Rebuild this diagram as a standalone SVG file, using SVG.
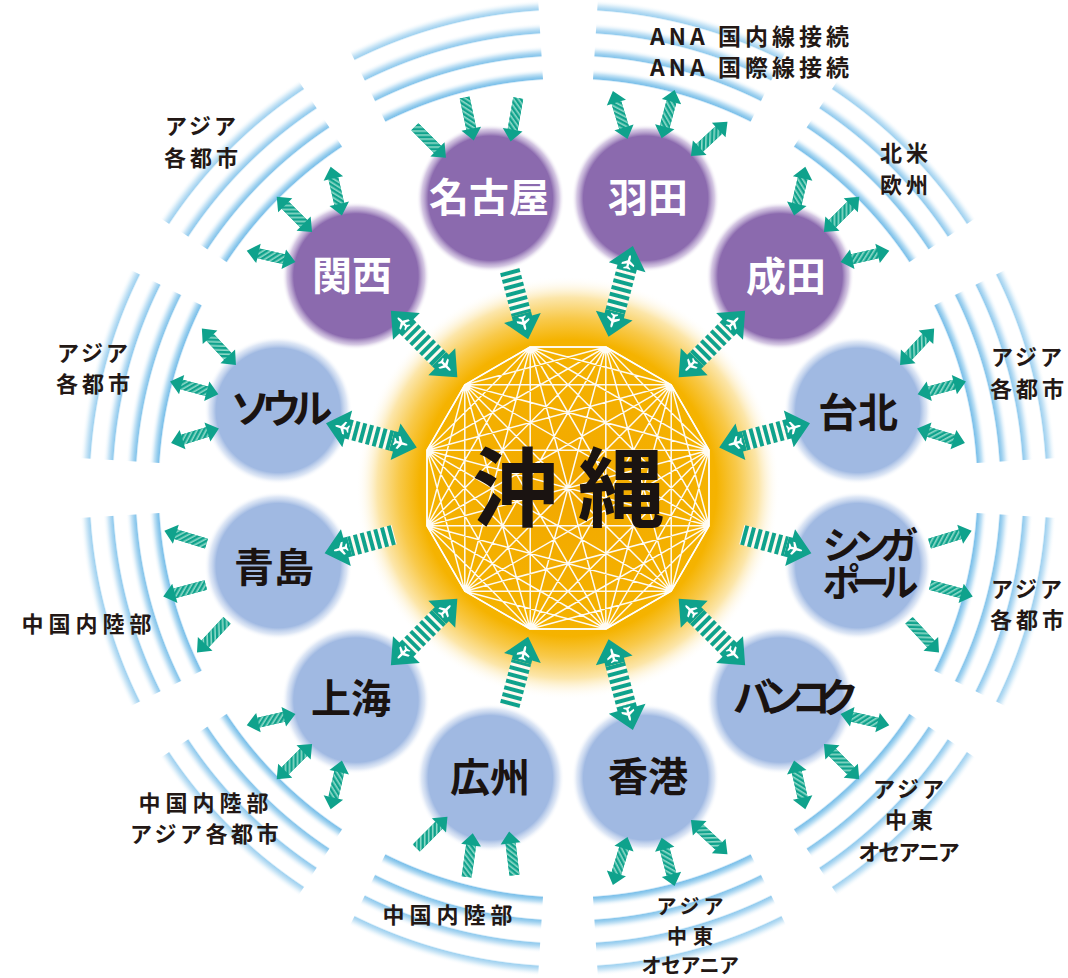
<svg xmlns="http://www.w3.org/2000/svg" xmlns:xlink="http://www.w3.org/1999/xlink" width="1068" height="978" viewBox="0 0 1068 978">
<style>
.lb{font-family:"Noto Sans CJK JP","Noto Sans CJK SC",sans-serif;font-weight:bold;font-size:22px;fill:#231815;text-anchor:middle;letter-spacing:3px}
.nl{font-family:"Noto Sans CJK JP","Noto Sans CJK SC",sans-serif;font-weight:bold;font-size:40px;fill:#1a1311;text-anchor:middle}
.w{fill:#ffffff}
.k12{fill:none;stroke:#ffffff;stroke-width:1.5;stroke-linejoin:round;opacity:0.95}
.teal{fill:#0fa28c}
</style>
<defs>
<radialGradient id="bandG" gradientUnits="userSpaceOnUse" cx="0" cy="0" r="494">
<stop offset="0" stop-color="#ffffff" stop-opacity="0"/>
<stop offset="0.8259" stop-color="#ffffff" stop-opacity="0"/>
<stop offset="0.8300" stop-color="#7cc0ea"/>
<stop offset="0.8340" stop-color="#94cced"/>
<stop offset="0.8401" stop-color="#c6e4f6"/>
<stop offset="0.8502" stop-color="#ffffff" stop-opacity="0"/>
<stop offset="0.8725" stop-color="#ffffff" stop-opacity="0"/>
<stop offset="0.8765" stop-color="#86c5eb"/>
<stop offset="0.8806" stop-color="#9dd0ef"/>
<stop offset="0.8866" stop-color="#cde7f7"/>
<stop offset="0.8968" stop-color="#ffffff" stop-opacity="0"/>
<stop offset="0.9190" stop-color="#ffffff" stop-opacity="0"/>
<stop offset="0.9231" stop-color="#92cbee"/>
<stop offset="0.9271" stop-color="#a8d5f1"/>
<stop offset="0.9332" stop-color="#d4eaf8"/>
<stop offset="0.9433" stop-color="#ffffff" stop-opacity="0"/>
<stop offset="0.9656" stop-color="#ffffff" stop-opacity="0"/>
<stop offset="0.9696" stop-color="#a0d2f0"/>
<stop offset="0.9737" stop-color="#b5dbf3"/>
<stop offset="0.9798" stop-color="#dbeef9"/>
<stop offset="0.9899" stop-color="#ffffff" stop-opacity="0"/>
<stop offset="1" stop-color="#ffffff" stop-opacity="0"/>
</radialGradient>
<path id="sector" d="M-98.49,-484.08 A494,494 0 0 1 98.49,-484.08 L80.74,-396.87 A405,405 0 0 0 -80.74,-396.87 Z" fill="url(#bandG)"/>
<radialGradient id="glow" gradientUnits="userSpaceOnUse" cx="568" cy="488" r="212">
<stop offset="0" stop-color="#f2a800"/>
<stop offset="0.7" stop-color="#f5b300"/>
<stop offset="0.8" stop-color="#f8c94a"/>
<stop offset="0.9" stop-color="#fce6aa"/>
<stop offset="1" stop-color="#ffffff" stop-opacity="0"/>
</radialGradient>
<radialGradient id="gP">
<stop offset="0" stop-color="#8b6aae"/>
<stop offset="0.84" stop-color="#8b6aae"/>
<stop offset="0.93" stop-color="#b9a3d0" stop-opacity="0.6"/>
<stop offset="1" stop-color="#ffffff" stop-opacity="0"/>
</radialGradient>
<radialGradient id="gB">
<stop offset="0" stop-color="#a0b9e2"/>
<stop offset="0.84" stop-color="#a0b9e2"/>
<stop offset="0.93" stop-color="#c8d7ef" stop-opacity="0.6"/>
<stop offset="1" stop-color="#ffffff" stop-opacity="0"/>
</radialGradient>
<pattern id="hatch" patternUnits="userSpaceOnUse" width="4" height="4" patternTransform="rotate(45)">
<rect width="4" height="4" fill="#0fa28c"/>
<rect width="1.6" height="4" fill="#8fd9c8"/>
</pattern>
<pattern id="bars" patternUnits="userSpaceOnUse" x="0" y="-20" width="7" height="40">
<rect width="7" height="40" fill="#fffaf0"/>
<rect width="4" height="40" fill="#0fa28c"/>
</pattern>
<path id="plane" fill="#ffffff" d="M8,0 C8,-1 6,-1.5 4,-1.5 L1,-1.5 L-3,-8 L-5.5,-8 L-3,-1.5 L-6.5,-1.5 L-8.5,-4.5 L-10,-4.5 L-9,0 L-10,4.5 L-8.5,4.5 L-6.5,1.5 L-3,1.5 L-5.5,8 L-3,8 L1,1.5 L4,1.5 C6,1.5 8,1 8,0 Z"/>
<g id="bd">
<rect x="-21" y="-10" width="42" height="20" fill="url(#bars)"/>
<polygon class="teal" points="47,0 25,-19 25,-10 21,-10 21,10 25,10 25,19"/>
<polygon class="teal" points="-47,0 -25,-19 -25,-10 -21,-10 -21,10 -25,10 -25,19"/>
<use href="#plane" transform="translate(31,0) scale(0.8)"/>
<use href="#plane" transform="translate(-31,0) scale(-0.8,0.8)"/>
</g>
<g id="bs">
<rect x="-36" y="-10" width="46" height="20" fill="url(#bars)"/>
<polygon class="teal" points="36,0 14,-19 14,-10 10,-10 10,10 14,10 14,19"/>
<use href="#plane" transform="translate(20,0) scale(0.8)"/>
</g>
<g id="sd">
<polygon class="teal" points="-25,0 -13,-10 -13,-5 13,-5 13,-10 25,0 13,10 13,5 -13,5 -13,10"/>
<rect x="-13" y="-5" width="26" height="10" fill="url(#hatch)"/>
</g>
<g id="ss">
<polygon class="teal" points="22,0 10,-10 10,-5 -22,-5 -22,5 10,5 10,10"/>
<rect x="-22" y="-5" width="32" height="10" fill="url(#hatch)"/>
</g>
</defs>
<rect width="1068" height="978" fill="#ffffff"/>
<g id="bands">
<use href="#sector" transform="translate(568,488) rotate(15)"/>
<use href="#sector" transform="translate(568,488) rotate(45)"/>
<use href="#sector" transform="translate(568,488) rotate(75)"/>
<use href="#sector" transform="translate(568,488) rotate(105)"/>
<use href="#sector" transform="translate(568,488) rotate(135)"/>
<use href="#sector" transform="translate(568,488) rotate(165)"/>
<use href="#sector" transform="translate(568,488) rotate(195)"/>
<use href="#sector" transform="translate(568,488) rotate(225)"/>
<use href="#sector" transform="translate(568,488) rotate(255)"/>
<use href="#sector" transform="translate(568,488) rotate(285)"/>
<use href="#sector" transform="translate(568,488) rotate(315)"/>
<use href="#sector" transform="translate(568,488) rotate(345)"/>
</g>
<g id="okinawa">
<circle cx="568" cy="488" r="212" fill="url(#glow)"/>
<path class="k12" d="M605.8,347 L671.2,384.8 L709,450.2 L709,525.8 L671.2,591.2 L605.8,629 L530.2,629 L464.8,591.2 L427,525.8 L427,450.2 L464.8,384.8 L530.2,347 Z M605.8,347 L709,450.2 L671.2,591.2 L530.2,629 L427,525.8 L464.8,384.8 Z M671.2,384.8 L709,525.8 L605.8,629 L464.8,591.2 L427,450.2 L530.2,347 Z M605.8,347 L709,525.8 L530.2,629 L427,450.2 Z M671.2,384.8 L671.2,591.2 L464.8,591.2 L464.8,384.8 Z M709,450.2 L605.8,629 L427,525.8 L530.2,347 Z M605.8,347 L671.2,591.2 L427,525.8 Z M671.2,384.8 L605.8,629 L427,450.2 Z M709,450.2 L530.2,629 L464.8,384.8 Z M709,525.8 L464.8,591.2 L530.2,347 Z M605.8,347 L605.8,629 L464.8,384.8 L709,525.8 L427,525.8 L671.2,384.8 L530.2,629 L530.2,347 L671.2,591.2 L427,450.2 L709,450.2 L464.8,591.2 Z M605.8,347 L530.2,629 M671.2,384.8 L464.8,591.2 M709,450.2 L427,525.8 M709,525.8 L427,450.2 M671.2,591.2 L464.8,384.8 M605.8,629 L530.2,347"/>
<path class="k12" stroke-width="2.5" d="M605.8,347 L671.2,384.8 L709,450.2 L709,525.8 L671.2,591.2 L605.8,629 L530.2,629 L464.8,591.2 L427,525.8 L427,450.2 L464.8,384.8 L530.2,347 Z"/>
<text class="nl" x="515" y="520" style="font-size:86px">沖</text>
<text class="nl" x="621" y="520" style="font-size:86px">縄</text>
</g>
<g id="node-haneda"><circle cx="645.6" cy="198.2" r="74" fill="url(#gP)"/><text class="nl w" x="648" y="212">羽田</text></g>
<g id="node-narita"><circle cx="780.1" cy="275.9" r="74" fill="url(#gP)"/><text class="nl w" x="786" y="291">成田</text></g>
<g id="node-taipei"><circle cx="857.8" cy="410.4" r="74" fill="url(#gB)"/><text class="nl" x="858" y="427">台北</text></g>
<g id="node-singapore"><circle cx="857.8" cy="565.6" r="74" fill="url(#gB)"/><text class="nl" style="font-size:38px;letter-spacing:-9px"><tspan x="866" y="559">シンガ</tspan><tspan x="866" y="596">ポール</tspan></text></g>
<g id="node-bangkok"><circle cx="780.1" cy="700.1" r="74" fill="url(#gB)"/><text class="nl" x="790" y="712" style="letter-spacing:-12px">バンコク</text></g>
<g id="node-hongkong"><circle cx="645.6" cy="777.8" r="74" fill="url(#gB)"/><text class="nl" x="648" y="791">香港</text></g>
<g id="node-guangzhou"><circle cx="490.4" cy="777.8" r="74" fill="url(#gB)"/><text class="nl" x="490" y="792">広州</text></g>
<g id="node-shanghai"><circle cx="355.9" cy="700.1" r="74" fill="url(#gB)"/><text class="nl" x="351" y="713">上海</text></g>
<g id="node-qingdao"><circle cx="278.2" cy="565.6" r="74" fill="url(#gB)"/><text class="nl" x="274" y="582">青島</text></g>
<g id="node-seoul"><circle cx="278.2" cy="410.4" r="74" fill="url(#gB)"/><text class="nl" x="277" y="423" style="letter-spacing:-9px">ソウル</text></g>
<g id="node-kansai"><circle cx="355.9" cy="275.9" r="74" fill="url(#gP)"/><text class="nl w" x="352" y="290">関西</text></g>
<g id="node-nagoya"><circle cx="490.4" cy="198.2" r="74" fill="url(#gP)"/><text class="nl w" x="489" y="212">名古屋</text></g>
<g id="connectors">
<use href="#bd" transform="translate(620.7,291.4) rotate(-75)"/>
<use href="#bd" transform="translate(711.9,344.1) rotate(-45)"/>
<use href="#bd" transform="translate(764.6,435.3) rotate(-15)"/>
<use href="#bs" transform="translate(776.6,543.9) rotate(15)"/>
<use href="#bd" transform="translate(711.9,631.9) rotate(45)"/>
<use href="#bd" transform="translate(620.7,684.6) rotate(75)"/>
<use href="#bs" transform="translate(518.8,671.5) rotate(-75)"/>
<use href="#bd" transform="translate(424.1,631.9) rotate(135)"/>
<use href="#bs" transform="translate(359.4,543.9) rotate(165)"/>
<use href="#bd" transform="translate(371.4,435.3) rotate(195)"/>
<use href="#bd" transform="translate(424.1,344.1) rotate(225)"/>
<use href="#bs" transform="translate(518.8,304.5) rotate(75)"/>
<use href="#sd" transform="translate(620.2,115) rotate(-107)"/>
<use href="#sd" transform="translate(668.1,114.2) rotate(-75)"/>
<use href="#sd" transform="translate(709.2,138.9) rotate(-43)"/>
<use href="#sd" transform="translate(799.7,191.1) rotate(-77)"/>
<use href="#sd" transform="translate(841.6,214.4) rotate(-45)"/>
<use href="#sd" transform="translate(864.9,256.3) rotate(-13)"/>
<use href="#sd" transform="translate(917.1,346.8) rotate(-47)"/>
<use href="#sd" transform="translate(941.8,387.9) rotate(-15)"/>
<use href="#sd" transform="translate(941,435.8) rotate(17)"/>
<use href="#ss" transform="translate(950.6,537.2) rotate(-17)"/>
<use href="#ss" transform="translate(951.5,590.7) rotate(15)"/>
<use href="#ss" transform="translate(924,636.5) rotate(47)"/>
<use href="#sd" transform="translate(864.9,719.7) rotate(13)"/>
<use href="#sd" transform="translate(841.6,761.6) rotate(45)"/>
<use href="#sd" transform="translate(799.7,784.9) rotate(77)"/>
<use href="#sd" transform="translate(709.2,837.1) rotate(43)"/>
<use href="#sd" transform="translate(668.1,861.8) rotate(75)"/>
<use href="#sd" transform="translate(620.2,861) rotate(107)"/>
<use href="#ss" transform="translate(511.8,853.3) rotate(263)"/>
<use href="#ss" transform="translate(469.7,855.1) rotate(278)"/>
<use href="#ss" transform="translate(431.9,832.4) rotate(315)"/>
<use href="#sd" transform="translate(336.3,784.9) rotate(103)"/>
<use href="#sd" transform="translate(294.4,761.6) rotate(135)"/>
<use href="#sd" transform="translate(271.1,719.7) rotate(167)"/>
<use href="#ss" transform="translate(212,636.5) rotate(133)"/>
<use href="#ss" transform="translate(184.5,590.7) rotate(165)"/>
<use href="#ss" transform="translate(185.4,537.2) rotate(197)"/>
<use href="#sd" transform="translate(195,435.8) rotate(163)"/>
<use href="#sd" transform="translate(194.2,387.9) rotate(195)"/>
<use href="#sd" transform="translate(218.9,346.8) rotate(227)"/>
<use href="#sd" transform="translate(271.1,256.3) rotate(193)"/>
<use href="#sd" transform="translate(294.4,214.4) rotate(225)"/>
<use href="#sd" transform="translate(336.3,191.1) rotate(257)"/>
<use href="#ss" transform="translate(430.4,142.3) rotate(45)"/>
<use href="#ss" transform="translate(469.2,119) rotate(78)"/>
<use href="#ss" transform="translate(514.4,119.8) rotate(100)"/>
</g>
<g id="labels">
<text class="lb" style="text-anchor:start;font-size:23px;letter-spacing:4px"><tspan x="650" y="45">ANA 国内線接続</tspan><tspan x="650" y="76">ANA 国際線接続</tspan></text>
<text class="lb"><tspan x="202" y="134">アジア</tspan><tspan x="203" y="166" style="letter-spacing:4px">各都市</tspan></text>
<text class="lb" style="letter-spacing:4px"><tspan x="906" y="161">北米</tspan><tspan x="906" y="193">欧州</tspan></text>
<text class="lb"><tspan x="94" y="361">アジア</tspan><tspan x="95" y="392" style="letter-spacing:4px">各都市</tspan></text>
<text class="lb"><tspan x="1028" y="365">アジア</tspan><tspan x="1029" y="397" style="letter-spacing:4px">各都市</tspan></text>
<text class="lb" x="89" y="632" style="letter-spacing:5px">中国内陸部</text>
<text class="lb"><tspan x="1028" y="597">アジア</tspan><tspan x="1029" y="628" style="letter-spacing:4px">各都市</tspan></text>
<text class="lb"><tspan x="206" y="811" style="letter-spacing:5px">中国内陸部</tspan><tspan x="206" y="842" style="letter-spacing:3.5px">アジア各都市</tspan></text>
<text class="lb" x="450" y="923" style="letter-spacing:5px">中国内陸部</text>
<text class="lb" style="font-size:20px"><tspan x="692" y="914" style="letter-spacing:4px">アジア</tspan><tspan x="693" y="944" style="letter-spacing:6px">中東</tspan><tspan x="690" y="973" style="letter-spacing:-0.5px">オセアニア</tspan></text>
<text class="lb"><tspan x="910" y="797">アジア</tspan><tspan x="911" y="828" style="letter-spacing:4px">中東</tspan><tspan x="908" y="860" style="letter-spacing:-2px">オセアニア</tspan></text>
</g>
</svg>
